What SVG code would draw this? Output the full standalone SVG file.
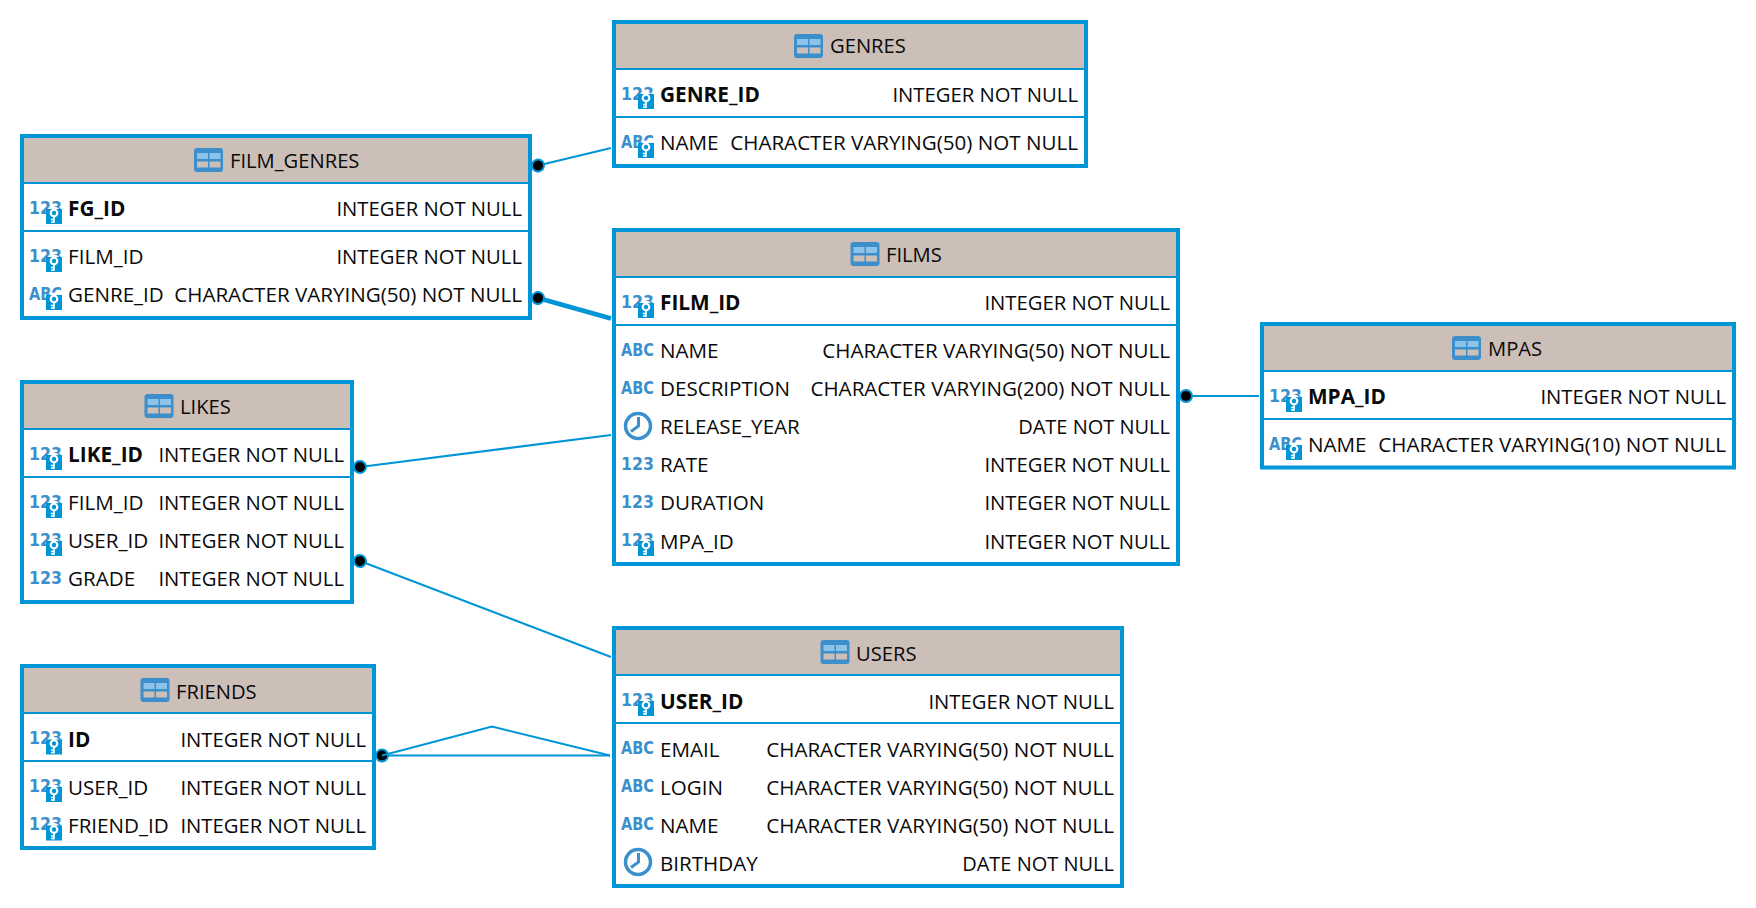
<svg xmlns="http://www.w3.org/2000/svg" width="1756" height="908" viewBox="0 0 1756 908">
<style>
text{font-family:"Open Sans","Noto Sans","Liberation Sans",sans-serif;font-size:20.6px;fill:#0a0a0a}
.box{fill:#fff;stroke:#0095d6;stroke-width:4}
.hd{fill:#cbbfb7}
.sep{stroke:#0095d6;stroke-width:2;fill:none}
.h{font-size:20.2px}
.r{text-anchor:end}
.n{font-size:20.25px}
.d{font-size:20px}
.b{font-weight:700;font-size:20.8px}
.i{font-family:"DejaVu Sans","Liberation Sans",sans-serif;font-size:18px;font-weight:700;fill:#3c8fcb}
.c{stroke:#0095d6;stroke-width:2;fill:none}
.ck{stroke-width:4.5}
</style>
<defs>
<marker id="dot" markerUnits="userSpaceOnUse" markerWidth="16" markerHeight="16" refX="8" refY="8" orient="auto"><circle cx="8" cy="8" r="6" fill="#000" stroke="#0095d6" stroke-width="2"/></marker>
<g id="tbl"><rect x="0" y="0" width="29" height="24" rx="3" fill="#3c8fcb"/><rect x="3" y="5" width="11" height="6" fill="#8cc3ea"/><rect x="15.500" y="5" width="11" height="6" fill="#8cc3ea"/><rect x="3" y="13.500" width="11" height="6" fill="#cbbfb7"/><rect x="15.500" y="13.500" width="11" height="6" fill="#cbbfb7"/></g>
<g id="key"><circle cx="8" cy="4" r="6.500" fill="#fff"/><rect x="0" y="0" width="16" height="15" fill="#0095d6"/><circle cx="8" cy="4" r="3.300" fill="#0095d6" stroke="#fff" stroke-width="2.200"/><path d="M8 7V14M8 10.500H5M8 13H5" stroke="#fff" stroke-width="1.600" fill="none"/></g>
<g id="clk"><circle cx="0" cy="0" r="12.500" fill="none" stroke="#3c8fcb" stroke-width="3.500"/><path d="M0.500 -9V0L-7 5.500" fill="none" stroke="#3c8fcb" stroke-width="3"/></g>
</defs>
<g id="connectors">
<path class="c" marker-start="url(#dot)" d="M538 165.500L611 148"/>
<path class="c ck" marker-start="url(#dot)" d="M538 298L611 318.500"/>
<path class="c" marker-start="url(#dot)" d="M360 467L611 435"/>
<path class="c" marker-start="url(#dot)" d="M360 561L611 657"/>
<path class="c" marker-start="url(#dot)" d="M382 755.500H610"/>
<path class="c" d="M382 755.500L492 726.500L610 755.500"/>
<path class="c" marker-start="url(#dot)" d="M1186 396H1259"/>
</g>
<g id="GENRES">
<rect class="box" x="614" y="22" width="472" height="144"/><rect class="hd" x="616" y="24" width="468" height="45"/>
<path class="sep" d="M616 69H1084M616 117H1084"/>
<use href="#tbl" x="794" y="34"/><text class="h" x="830" y="53">GENRES</text>
<text class="i" x="621" y="100" textLength="33" lengthAdjust="spacingAndGlyphs">123</text><use href="#key" x="638" y="94"/><text class="b" x="660" y="102">GENRE_ID</text><text class="r n" x="1078" y="102">INTEGER NOT NULL</text>
<text class="i" x="621" y="148" textLength="33" lengthAdjust="spacingAndGlyphs">ABC</text><use href="#key" x="638" y="143"/><text x="660" y="150">NAME</text><text class="r" x="1078" y="150">CHARACTER VARYING(50) NOT NULL</text>
</g>
<g id="FILM_GENRES">
<rect class="box" x="22" y="136" width="508" height="182"/><rect class="hd" x="24" y="138" width="504" height="45"/>
<path class="sep" d="M24 183H528M24 231H528"/>
<use href="#tbl" x="194" y="148"/><text class="h" x="230" y="168">FILM_GENRES</text>
<text class="i" x="29" y="214" textLength="33" lengthAdjust="spacingAndGlyphs">123</text><use href="#key" x="46" y="209"/><text class="b" x="68" y="216">FG_ID</text><text class="r n" x="522" y="216">INTEGER NOT NULL</text>
<text class="i" x="29" y="262" textLength="33" lengthAdjust="spacingAndGlyphs">123</text><use href="#key" x="46" y="257"/><text x="68" y="264">FILM_ID</text><text class="r n" x="522" y="264">INTEGER NOT NULL</text>
<text class="i" x="29" y="300" textLength="33" lengthAdjust="spacingAndGlyphs">ABC</text><use href="#key" x="46" y="295"/><text x="68" y="302">GENRE_ID</text><text class="r" x="522" y="302">CHARACTER VARYING(50) NOT NULL</text>
</g>
<g id="FILMS">
<rect class="box" x="614" y="230" width="564" height="334"/><rect class="hd" x="616" y="232" width="560" height="45"/>
<path class="sep" d="M616 277H1176M616 325H1176"/>
<use href="#tbl" x="850.500" y="242"/><text class="h" x="886" y="262">FILMS</text>
<text class="i" x="621" y="308" textLength="33" lengthAdjust="spacingAndGlyphs">123</text><use href="#key" x="638" y="303"/><text class="b" x="660" y="310">FILM_ID</text><text class="r n" x="1170" y="310">INTEGER NOT NULL</text>
<text class="i" x="621" y="356" textLength="33" lengthAdjust="spacingAndGlyphs">ABC</text><text x="660" y="358">NAME</text><text class="r" x="1170" y="358">CHARACTER VARYING(50) NOT NULL</text>
<text class="i" x="621" y="394" textLength="33" lengthAdjust="spacingAndGlyphs">ABC</text><text x="660" y="396">DESCRIPTION</text><text class="r" x="1170" y="396">CHARACTER VARYING(200) NOT NULL</text>
<use href="#clk" x="638" y="426"/><text x="660" y="434">RELEASE_YEAR</text><text class="r d" x="1170" y="434">DATE NOT NULL</text>
<text class="i" x="621" y="470" textLength="33" lengthAdjust="spacingAndGlyphs">123</text><text x="660" y="472">RATE</text><text class="r n" x="1170" y="472">INTEGER NOT NULL</text>
<text class="i" x="621" y="508" textLength="33" lengthAdjust="spacingAndGlyphs">123</text><text x="660" y="510">DURATION</text><text class="r n" x="1170" y="510">INTEGER NOT NULL</text>
<text class="i" x="621" y="546" textLength="33" lengthAdjust="spacingAndGlyphs">123</text><use href="#key" x="638" y="541"/><text x="660" y="549">MPA_ID</text><text class="r n" x="1170" y="549">INTEGER NOT NULL</text>
</g>
<g id="MPAS">
<rect class="box" x="1262" y="324" width="472" height="143.500"/><rect class="hd" x="1264" y="326" width="468" height="45"/>
<path class="sep" d="M1264 371H1732M1264 419H1732"/>
<use href="#tbl" x="1452" y="336"/><text class="h" x="1488" y="356">MPAS</text>
<text class="i" x="1269" y="402" textLength="33" lengthAdjust="spacingAndGlyphs">123</text><use href="#key" x="1286" y="397"/><text class="b" x="1308" y="404">MPA_ID</text><text class="r n" x="1726" y="404">INTEGER NOT NULL</text>
<text class="i" x="1269" y="450" textLength="33" lengthAdjust="spacingAndGlyphs">ABC</text><use href="#key" x="1286" y="445"/><text x="1308" y="452">NAME</text><text class="r" x="1726" y="452">CHARACTER VARYING(10) NOT NULL</text>
</g>
<g id="LIKES">
<rect class="box" x="22" y="382" width="330" height="220"/><rect class="hd" x="24" y="384" width="326" height="45"/>
<path class="sep" d="M24 429H350M24 477H350"/>
<use href="#tbl" x="144.500" y="394"/><text class="h" x="180" y="414">LIKES</text>
<text class="i" x="29" y="460" textLength="33" lengthAdjust="spacingAndGlyphs">123</text><use href="#key" x="46" y="455"/><text class="b" x="68" y="462">LIKE_ID</text><text class="r n" x="344" y="462">INTEGER NOT NULL</text>
<text class="i" x="29" y="508" textLength="33" lengthAdjust="spacingAndGlyphs">123</text><use href="#key" x="46" y="503"/><text x="68" y="510">FILM_ID</text><text class="r n" x="344" y="510">INTEGER NOT NULL</text>
<text class="i" x="29" y="546" textLength="33" lengthAdjust="spacingAndGlyphs">123</text><use href="#key" x="46" y="541"/><text x="68" y="548">USER_ID</text><text class="r n" x="344" y="548">INTEGER NOT NULL</text>
<text class="i" x="29" y="584" textLength="33" lengthAdjust="spacingAndGlyphs">123</text><text x="68" y="586">GRADE</text><text class="r n" x="344" y="586">INTEGER NOT NULL</text>
</g>
<g id="FRIENDS">
<rect class="box" x="22" y="666" width="352" height="182"/><rect class="hd" x="24" y="668" width="348" height="45"/>
<path class="sep" d="M24 713H372M24 761H372"/>
<use href="#tbl" x="140.500" y="678"/><text class="h" x="176" y="698.500">FRIENDS</text>
<text class="i" x="29" y="744" textLength="33" lengthAdjust="spacingAndGlyphs">123</text><use href="#key" x="46" y="739.500"/><text class="b" x="68" y="746.500">ID</text><text class="r n" x="366" y="746.500">INTEGER NOT NULL</text>
<text class="i" x="29" y="792" textLength="33" lengthAdjust="spacingAndGlyphs">123</text><use href="#key" x="46" y="787"/><text x="68" y="794.500">USER_ID</text><text class="r n" x="366" y="794.500">INTEGER NOT NULL</text>
<text class="i" x="29" y="830" textLength="33" lengthAdjust="spacingAndGlyphs">123</text><use href="#key" x="46" y="825.500"/><text x="68" y="832.500">FRIEND_ID</text><text class="r n" x="366" y="832.500">INTEGER NOT NULL</text>
</g>
<g id="USERS">
<rect class="box" x="614" y="628" width="508" height="258"/><rect class="hd" x="616" y="630" width="504" height="45"/>
<path class="sep" d="M616 675H1120M616 723H1120"/>
<use href="#tbl" x="820.500" y="640"/><text class="h" x="856" y="660.500">USERS</text>
<text class="i" x="621" y="706" textLength="33" lengthAdjust="spacingAndGlyphs">123</text><use href="#key" x="638" y="701"/><text class="b" x="660" y="708.500">USER_ID</text><text class="r n" x="1114" y="708.500">INTEGER NOT NULL</text>
<text class="i" x="621" y="754" textLength="33" lengthAdjust="spacingAndGlyphs">ABC</text><text x="660" y="756.500">EMAIL</text><text class="r" x="1114" y="756.500">CHARACTER VARYING(50) NOT NULL</text>
<text class="i" x="621" y="792" textLength="33" lengthAdjust="spacingAndGlyphs">ABC</text><text x="660" y="794.500">LOGIN</text><text class="r" x="1114" y="794.500">CHARACTER VARYING(50) NOT NULL</text>
<text class="i" x="621" y="830" textLength="33" lengthAdjust="spacingAndGlyphs">ABC</text><text x="660" y="832.500">NAME</text><text class="r" x="1114" y="832.500">CHARACTER VARYING(50) NOT NULL</text>
<use href="#clk" x="638" y="862"/><text x="660" y="870.500">BIRTHDAY</text><text class="r d" x="1114" y="870.500">DATE NOT NULL</text>
</g>
</svg>
